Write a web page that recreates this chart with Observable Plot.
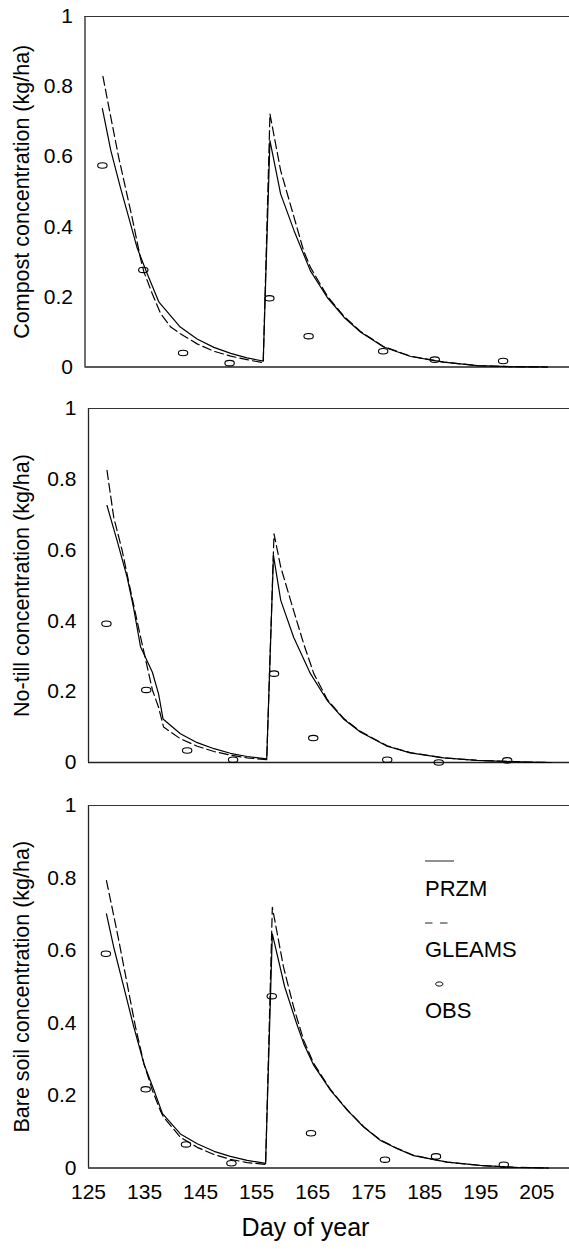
<!DOCTYPE html>
<html><head><meta charset="utf-8">
<script src="https://cdn.jsdelivr.net/npm/d3@7"></script>
<script src="https://cdn.jsdelivr.net/npm/@observablehq/plot@0.6"></script>
<style>
html,body{margin:0;padding:0;background:#fff;}
#chart{width:569px;}
#chart svg{display:block;}
</style></head><body><div id="chart"></div>
<script>
// ---- tick labels / categories ----
const xTicks = [125, 135, 145, 155, 165, 175, 185, 195, 205];
const yTicks = [0, 0.2, 0.4, 0.6, 0.8, 1];
const panelLabels = ["Compost concentration (kg/ha)", "No-till concentration (kg/ha)", "Bare soil concentration (kg/ha)"];
const legendLabels = ["PRZM", "GLEAMS", "OBS"];
const xTitle = "Day of year";

// ---- Compost ----
const compostPrzmDay = [128.1, 129.6, 131.3, 132.8, 134.3, 136.1, 138.2, 142.0, 145.0, 148.0, 151.0, 153.9, 156.8, 158.0, 159.9, 162.3, 165.2, 168.2, 171.2, 174.2, 178.3, 183.1, 189.0, 195.0, 200.9, 207.5];
const compostPrzmVal = [0.737, 0.618, 0.513, 0.427, 0.340, 0.266, 0.185, 0.114, 0.080, 0.056, 0.039, 0.026, 0.017, 0.646, 0.494, 0.389, 0.275, 0.199, 0.142, 0.099, 0.057, 0.030, 0.014, 0.004, 0.001, 0.0];
const compostGleamsDay = [128.2, 129.6, 131.0, 132.2, 133.4, 134.9, 135.5, 137.0, 138.5, 140.3, 142.0, 145.0, 148.0, 151.0, 153.9, 156.8, 158.0, 159.9, 162.3, 164.0, 165.2, 168.2, 171.2, 174.2, 178.3, 183.1, 189.0, 195.0, 200.9, 207.5];
const compostGleamsVal = [0.829, 0.713, 0.599, 0.513, 0.427, 0.310, 0.272, 0.209, 0.152, 0.114, 0.095, 0.066, 0.045, 0.031, 0.021, 0.012, 0.722, 0.561, 0.427, 0.332, 0.285, 0.203, 0.145, 0.101, 0.058, 0.031, 0.014, 0.004, 0.001, 0.0];
const compostObsDay = [128.1, 135.4, 142.5, 150.8, 157.9, 164.9, 178.2, 187.4, 199.6];
const compostObsVal = [0.575, 0.277, 0.040, 0.011, 0.196, 0.088, 0.045, 0.021, 0.017];

// ---- No-till ----
const noTillPrzmDay = [128.3, 130.1, 131.9, 133.0, 134.3, 136.4, 137.5, 138.3, 141.4, 144.4, 147.4, 150.3, 153.3, 156.8, 158.0, 159.3, 161.6, 164.6, 167.6, 170.5, 173.5, 178.3, 182.4, 188.4, 194.3, 203.3, 207.5];
const noTillPrzmVal = [0.726, 0.627, 0.523, 0.440, 0.326, 0.255, 0.194, 0.123, 0.081, 0.056, 0.039, 0.026, 0.017, 0.010, 0.585, 0.458, 0.354, 0.251, 0.175, 0.123, 0.086, 0.046, 0.027, 0.013, 0.006, 0.001, 0.0];
const noTillGleamsDay = [128.3, 129.5, 131.0, 132.5, 134.3, 136.4, 137.5, 138.4, 141.4, 144.4, 147.4, 150.3, 153.3, 156.8, 158.1, 159.3, 161.6, 163.4, 165.2, 167.6, 170.5, 173.5, 178.3, 182.4, 188.4, 194.3, 203.3, 207.5];
const noTillGleamsVal = [0.825, 0.693, 0.599, 0.486, 0.354, 0.205, 0.156, 0.100, 0.067, 0.046, 0.031, 0.021, 0.013, 0.008, 0.646, 0.552, 0.429, 0.335, 0.251, 0.178, 0.125, 0.088, 0.047, 0.028, 0.013, 0.006, 0.001, 0.0];
const noTillObsDay = [128.2, 135.3, 142.6, 150.8, 158.1, 165.1, 178.3, 187.5, 199.7];
const noTillObsVal = [0.392, 0.205, 0.034, 0.008, 0.251, 0.069, 0.008, 0.0, 0.006];

// ---- Bare soil ----
const bareSoilPrzmDay = [128.2, 129.5, 131.3, 133.1, 134.9, 136.7, 138.2, 141.4, 144.4, 147.4, 150.3, 153.3, 156.6, 157.8, 160.0, 162.1, 163.4, 165.2, 168.2, 171.2, 174.1, 177.1, 180.1, 183.0, 189.0, 194.9, 200.9, 207.0];
const bareSoilPrzmVal = [0.701, 0.609, 0.499, 0.388, 0.287, 0.214, 0.150, 0.094, 0.067, 0.046, 0.032, 0.021, 0.013, 0.646, 0.500, 0.400, 0.343, 0.283, 0.214, 0.159, 0.113, 0.076, 0.053, 0.034, 0.016, 0.007, 0.002, 0.0];
const bareSoilGleamsDay = [128.2, 129.2, 130.4, 131.9, 133.4, 134.9, 136.4, 137.8, 138.4, 141.4, 144.4, 147.4, 150.3, 153.3, 156.6, 157.8, 159.8, 161.6, 163.4, 165.2, 168.2, 171.2, 174.1, 177.1, 180.1, 183.0, 189.0, 194.9, 200.9, 207.0];
const bareSoilGleamsVal = [0.793, 0.719, 0.628, 0.508, 0.388, 0.287, 0.214, 0.159, 0.140, 0.085, 0.057, 0.037, 0.024, 0.015, 0.010, 0.719, 0.554, 0.444, 0.352, 0.288, 0.216, 0.160, 0.114, 0.077, 0.054, 0.035, 0.016, 0.007, 0.002, 0.0];
const bareSoilObsDay = [128.1, 135.2, 142.4, 150.5, 157.7, 164.7, 177.9, 187.0, 199.1];
const bareSoilObsVal = [0.591, 0.217, 0.065, 0.013, 0.474, 0.096, 0.023, 0.032, 0.009];

const FONT = "'Liberation Sans', Arial, Helvetica, sans-serif";

function ellipseSymbol(ratio) {
  return {
    draw(ctx, size) {
      const rx = Math.sqrt(size / Math.PI), ry = rx * ratio, k = 0.5523;
      ctx.moveTo(rx, 0);
      ctx.bezierCurveTo(rx, k * ry, k * rx, ry, 0, ry);
      ctx.bezierCurveTo(-k * rx, ry, -rx, k * ry, -rx, 0);
      ctx.bezierCurveTo(-rx, -k * ry, -k * rx, -ry, 0, -ry);
      ctx.bezierCurveTo(k * rx, -ry, rx, -k * ry, rx, 0);
      ctx.closePath();
    }
  };
}

const zip = (days, vals) => days.map((d, i) => ({day: d, value: vals[i]}));

function makePanel(cfg) {
  const {height, top, bottom, left, label, przm, gleams, obs, showX} = cfg;
  const marks = [
    Plot.ruleX([125], {stroke: "#222", strokeWidth: 1.3}),
    Plot.ruleY([0], {stroke: "#222", strokeWidth: 1.3}),
    Plot.ruleY([1], {stroke: "#333", strokeWidth: 1}),
    Plot.axisY({ticks: yTicks, tickSize: 0, tickPadding: 12, tickFormat: d => String(d), label: null, fontSize: 21}),
    Plot.line(przm, {x: "day", y: "value", stroke: "#000", strokeWidth: 1.2}),
    Plot.line(gleams, {x: "day", y: "value", stroke: "#000", strokeWidth: 1.2, strokeDasharray: "9,4"}),
    Plot.dot(obs, {x: "day", y: "value", r: 4.7, symbol: ellipseSymbol(0.58), stroke: "#000", strokeWidth: 1.1, fill: "none"}),
    Plot.text([label], {text: d => d, frameAnchor: "left", textAnchor: "middle", rotate: -90, dx: 21.5 - left, fontSize: 21.5, fill: "#000"})
  ];
  if (showX) {
    marks.push(Plot.axisX({ticks: xTicks, tickSize: 0, tickPadding: 16, tickFormat: d => String(d), label: null, fontSize: 21}));
    marks.push(Plot.text([xTitle], {text: d => d, frameAnchor: "bottom", textAnchor: "middle", dy: 67.5, dx: 305 - (left + 569) / 2, fontSize: 25, fill: "#000"}));
  }
  return Plot.plot({
    width: 569, height,
    marginLeft: left, marginRight: 0, marginTop: top, marginBottom: bottom,
    style: {fontFamily: FONT, fontSize: "21px", color: "#000", background: "#fff", overflow: "visible"},
    x: {domain: [125, 211], range: [left, left + 482], axis: null},
    y: {domain: [0, 1], range: [height - bottom, top], axis: null},
    marks
  });
}

const chart = document.getElementById("chart");

chart.appendChild(makePanel({
  height: 390, top: 16, bottom: 23.5, left: 84.5, label: panelLabels[0],
  przm: zip(compostPrzmDay, compostPrzmVal), gleams: zip(compostGleamsDay, compostGleamsVal), obs: zip(compostObsDay, compostObsVal)
}));
chart.appendChild(makePanel({
  height: 395, top: 18, bottom: 23, left: 88, label: panelLabels[1],
  przm: zip(noTillPrzmDay, noTillPrzmVal), gleams: zip(noTillGleamsDay, noTillGleamsVal), obs: zip(noTillObsDay, noTillObsVal)
}));
const p3 = makePanel({
  height: 473, top: 20, bottom: 90.5, left: 88, label: panelLabels[2], showX: true,
  przm: zip(bareSoilPrzmDay, bareSoilPrzmVal), gleams: zip(bareSoilGleamsDay, bareSoilGleamsVal), obs: zip(bareSoilObsDay, bareSoilObsVal)
});
chart.appendChild(p3);

// legend inside the third panel
const lg = d3.select(p3).append("g").attr("font-family", FONT).attr("font-size", 22).attr("fill", "#000").attr("text-anchor", "start");
lg.append("line").attr("x1", 425).attr("x2", 454).attr("y1", 76).attr("y2", 76).attr("stroke", "#222").attr("stroke-width", 1);
lg.append("text").attr("x", 425).attr("y", 111).text(legendLabels[0]);
lg.append("line").attr("x1", 425).attr("x2", 449).attr("y1", 138).attr("y2", 138).attr("stroke", "#222").attr("stroke-width", 1).attr("stroke-dasharray", "7.5,7.5");
lg.append("text").attr("x", 425).attr("y", 172).text(legendLabels[1]);
lg.append("path").attr("d", d3.symbol(ellipseSymbol(0.55), Math.PI * 3.7 * 3.7)()).attr("transform", "translate(439.3,199)").attr("fill", "none").attr("stroke", "#000").attr("stroke-width", 1);
lg.append("text").attr("x", 425).attr("y", 233).text(legendLabels[2]);
</script>
</body></html>
